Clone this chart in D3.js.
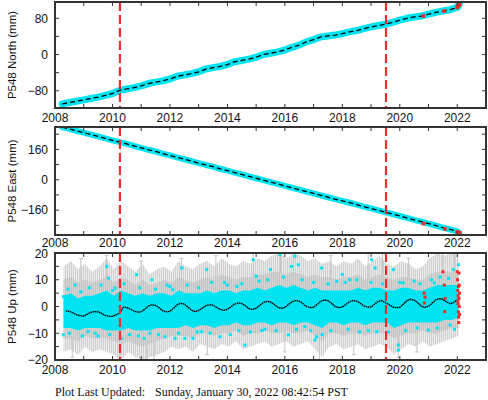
<html>
<head>
<script src="https://cdn.jsdelivr.net/npm/d3@7"></script>
<style>
  body { margin: 0; background: #fff; }
  svg text { font-family: "Liberation Sans", Arial, sans-serif; fill: #111; }
</style>
</head>
<body>
<div id="chart"></div>
<script>
// ---- data ----
// station P548, daily GPS positions (mm); band values every 0.25 yr
var yearTicks = [2008, 2009, 2010, 2011, 2012, 2013, 2014, 2015, 2016, 2017, 2018, 2019, 2020, 2021, 2022, 2023];
var yearLabels = [2008, 2010, 2012, 2014, 2016, 2018, 2020, 2022];
var offsets = [2010.26, 2019.52];   // red dashed lines (equipment changes)

var northStart = 2008.25, northStep = 0.25;
var northMm = [-109, -106, -103,
  -100, -97, -94, -90,  -86, -79, -76, -73,  -69, -64, -61, -58,  -54, -48, -45, -42,
  -38, -32, -29, -26,  -22, -16, -13, -10,  -6, 0, 3, 6,  10, 16, 21, 28,
  33, 39, 41, 43,  46, 50, 53, 57,  61, 64, 67, 71,  76, 80, 83, 85,
  89, 93, 96, 99,  104];
var northRed = [[2020.82, 85], [2021.55, 96], [2022.0, 104], [2022.03, 107], [2022.05, 109], [2022.07, 112], [2022.08, 110]];

var eastStart = 2008.25, eastStep = 0.25;
var eastMm = [277, 268, 258,
  248, 238, 229, 218,  208, 198, 189, 178,  168, 158, 149, 138,  128, 118, 108, 98,
  88, 78, 69, 58,  48, 38, 28, 18,  8, -2, -12, -22,  -32, -42, -52, -62,
  -72, -82, -92, -102,  -111, -121, -131, -141,  -151, -161, -171, -181,  -191, -201, -211, -221,
  -231, -241, -252, -262,  -272];
var eastRed = [[2020.82, -231], [2021.57, -259], [2022.0, -275], [2022.03, -278], [2022.05, -280], [2022.07, -282], [2022.08, -279]];

// vertical: envelopes of error bars (gray) and dense points (cyan)
var upStart = 2008.3, upStep = 0.25;
var grayHi = [15, 17, 14, 16, 13, 15, 18, 14, 17, 15, 13, 16, 12, 14, 15, 13, 17, 15, 14, 16, 17, 15, 18, 16, 15, 17, 16, 18,
  17, 19, 20, 18, 20, 19, 17, 18, 16, 17, 15, 17, 16, 18, 15, 17, 19, 16, 15, 17, 16, 14, 15, 18, 20, 19, 20, 20];
var grayLo = [-17, -16, -18, -15, -17, -16, -17, -18, -20, -17, -19, -20, -19, -18, -17, -15, -16, -15, -17, -14, -15, -16, -14, -15, -13, -16, -15, -14,
  -13, -15, -14, -13, -15, -14, -13, -16, -19, -15, -14, -16, -15, -14, -16, -15, -14, -15, -18, -16, -14, -15, -13, -15, -14, -13, -12, -11];
var grayInHi = [10, 11, 9, 10, 9, 10, 11, 9, 11, 10, 8, 10, 8, 9, 10, 9, 11, 10, 9, 10, 11, 10, 12, 11, 10, 11, 11, 12,
  12, 13, 13, 12, 13, 12, 11, 12, 11, 11, 10, 11, 11, 12, 10, 11, 12, 11, 10, 11, 11, 10, 10, 12, 13, 13, 13, 12];
var grayInLo = [-12, -12, -13, -11, -12, -12, -12, -13, -14, -13, -14, -15, -14, -13, -12, -11, -11, -11, -12, -10, -10, -11, -10, -10, -9, -11, -10, -10,
  -9, -10, -10, -9, -10, -10, -9, -11, -13, -10, -10, -11, -10, -10, -11, -10, -10, -10, -12, -11, -10, -10, -9, -10, -10, -9, -8, -8];
var cyanHi = [4, 5, 3, 4, 4, 5, 6, 4, 6, 5, 4, 5, 4, 5, 5, 4, 6, 5, 5, 5, 6, 5, 6, 6, 5, 6, 6, 7,
  6, 7, 8, 7, 8, 7, 6, 7, 6, 6, 6, 6, 6, 7, 6, 7, 7, 6, 6, 7, 7, 6, 6, 7, 8, 8, 8, 8];
var cyanLo = [-8, -8, -9, -8, -8, -8, -9, -9, -9, -8, -9, -9, -9, -8, -8, -8, -8, -7, -8, -7, -7, -8, -7, -7, -6, -7, -7, -6,
  -6, -7, -6, -6, -7, -6, -6, -7, -8, -6, -6, -7, -6, -6, -7, -6, -6, -6, -8, -7, -6, -6, -6, -6, -6, -5, -5, -4];
var grayBars = [[2010.26, -20, 2], [2011.2, -20, -6], [2017.2, -20, -8], [2019.95, -19, -8], [2016.3, 10, 20],
  [2015.85, 12, 20], [2021.5, 12, 20], [2014.9, 12, 20], [2013.6, 11, 19], [2009.8, 10, 19], [2012.4, 10, 18], [2018.9, 10, 20],
  [2008.6, -19, -9], [2011.45, -20, -8], [2013.3, -18, -8], [2016.0, -17, -7], [2018.4, -18, -8], [2020.6, -17, -8],
  [2008.9, 9, 18], [2011.0, 9, 17], [2017.6, 10, 19], [2019.4, 10, 20], [2021.9, 11, 20], [2020.3, 9, 18]];
var cyanDots = [[2008.29, -10.6], [2008.29, 3.7], [2009.8, 15], [2009.86, 10.6], [2010.09, 6.9], [2010.84, 11.9], [2011.37, 10],
  [2012.41, 14.4], [2012.8, -11.9], [2009.15, -9.4], [2010.15, -8.1], [2011.1, -11.9], [2011.3, -10], [2012.1, 6.3],
  [2013.28, 13.8], [2014.9, 17.5], [2014.33, 7.5], [2015.0, 11.3], [2012.52, -11.9], [2013.74, -11.3], [2014.61, -14.4],
  [2012.18, -11.9], [2011.83, -11.3], [2013.1, -9.4], [2015.83, 19.4], [2016.35, 18.8], [2016.23, 15], [2017.28, 14.4],
  [2017.8, 9.4], [2019.02, 17.5], [2016.12, -10.6], [2017.05, -12.5], [2017.1, -11.3], [2016.7, -7.5], [2015.5, 13.8],
  [2016.47, 15.6], [2018.25, 10], [2019.14, 14.4], [2019.78, 13.8], [2022.04, 15.6], [2019.95, -14.4], [2019.95, -16.3],
  [2019.2, -9.4], [2020.99, -8.8], [2021.75, -6.9], [2020.12, 8.8], [2021.2, 8.8], [2021.86, 13.8], [2008.7, 8], [2009.4, -10],
  [2010.6, -10.5], [2013.9, 9], [2015.2, -9], [2018.6, -9.5], [2020.5, 9.5], [2018.0, 12], [2014.1, -10.5], [2011.9, 8],
  [2008.45, 6.5], [2008.9, 5.5], [2009.2, 7], [2009.6, 8], [2010.0, 6], [2010.4, 8.5], [2010.95, 7], [2011.5, 6.5],
  [2012.0, 7.5], [2012.6, 8], [2013.0, 7], [2013.45, 9], [2014.0, 8], [2014.5, 8.5], [2015.1, 9.5], [2015.4, 10],
  [2015.95, 11], [2016.6, 10], [2017.0, 9], [2017.5, 8.5], [2018.1, 9], [2018.5, 10], [2019.0, 9], [2019.4, 8.5],
  [2020.0, 9], [2020.7, 8.5], [2021.1, 10], [2021.4, 11], [2021.7, 10.5],
  [2008.5, -10], [2008.95, -11], [2009.5, -11], [2009.9, -10.5], [2010.3, -12], [2010.9, -11], [2011.6, -10.5],
  [2012.3, -10], [2012.95, -9.5], [2013.4, -10], [2014.4, -9], [2014.8, -9.5], [2015.3, -8.5], [2015.7, -9],
  [2016.4, -8.5], [2016.9, -9], [2017.3, -10.5], [2017.6, -9], [2018.2, -8.5], [2018.9, -9], [2019.6, -9.5],
  [2020.2, -9], [2020.6, -8], [2021.3, -8], [2021.9, -8.5]];
var upModelStart = 2008.375, upModelStep = 0.125;
var upModel = [-1.7, -1.8, -2.4, -3.1, -3.4,
  -3.6, -2.9, -2.2, -1.9, -2.0, -2.6, -3.3, -3.7,
  -3.7, -3.1, -2.5, -0.3, -0.4, -1.0, -1.7, -2.1,
  -2.0, -1.0, 0.2, 0.6, 0.4, -0.5, -1.6, -2.0,
  -1.8, -0.7, 0.6, 1.2, 0.9, -0.2, -1.4, -1.9,
  -1.5, -0.6, 0.3, 0.6, 0.5, -0.3, -1.1, -1.4,
  -1.1, -0.1, 0.9, 1.3, 1.1, 0.3, -0.8, -1.1,
  -0.7, 0.4, 1.5, 1.9, 1.7, 0.8, -0.3, -0.7,
  -0.3, 0.7, 1.8, 2.2, 2.0, 1.1, 0.0, -0.4,
  -0.3, 0.8, 2.0, 2.4, 2.2, 1.2, 0.0, -0.4,
  -0.2, 0.8, 1.8, 2.2, 2.0, 1.2, 0.2, -0.2,
  -0.2, 0.9, 1.9, 2.2, 1.4, 0.7, -0.1, -0.5,
  -0.3, 0.9, 2.2, 2.7, 2.4, 1.4, 0.1, -0.3,
  0.1, 1.2, 2.5, 2.9, 2.7, 1.7, 1.0, 1.5,
  2.5];
var upRed = [[2020.85, 5], [2020.86, 1.3], [2020.88, 3.5], [2021.55, 8], [2021.56, -1.9], [2021.58, 3], [2021.5, 13],
  [2022.0, 13], [2022.01, 10], [2022.02, 6], [2022.03, 4], [2022.03, 1], [2022.04, -2], [2022.05, -4], [2022.05, -6],
  [2022.06, 3], [2022.07, 8], [2022.07, 0], [2022.08, 5], [2022.08, -3], [2022.02, 2], [2022.06, 12.5], [2022.04, 7.5]];

var footerLeft = "Plot Last Updated:";
var footerRight = "Sunday, January 30, 2022 08:42:54 PST";

// ---- drawing ----
var W = 488, H = 400;
var cyan = "#00e4f2", red = "#f42a2a", frame = "#333";
var svg = d3.select("#chart").append("svg").attr("width", W).attr("height", H);

// error bar texture: thin vertical strokes
var defs = svg.append("defs");
function hatch(id, bg, fg) {
  var pat = defs.append("pattern").attr("id", id).attr("patternUnits", "userSpaceOnUse")
    .attr("width", 2).attr("height", 4);
  pat.append("rect").attr("width", 2).attr("height", 4).attr("fill", bg);
  pat.append("rect").attr("x", 1).attr("width", 1).attr("height", 4).attr("fill", fg);
}
hatch("grayOut", "#ebebeb", "#d0d0d0");
hatch("grayIn", "#d6d6d6", "#c2c2c2");

var x = d3.scaleLinear().domain([2008, 2023]).range([55, 486]);

function series(start, step, vals) {
  return vals.map(function (v, i) { return [start + i * step, v]; });
}

var panels = [
  { title: "P548 North (mm)", top: 2, bottom: 108, domain: [-118, 116], labels: [-80, 0, 80], minor: 40, id: "n", lab: 14 },
  { title: "P548 East (mm)", top: 127, bottom: 235, domain: [-291, 278], labels: [-160, 0, 160], minor: 80, id: "e", lab: 12 },
  { title: "P548 Up (mm)", top: 253, bottom: 360, domain: [-20, 20], labels: [-20, -10, 0, 10, 20], minor: 5, id: "u", lab: 14 }
];

panels.forEach(function (p) {
  var y = d3.scaleLinear().domain(p.domain).range([p.bottom, p.top]);
  var g = svg.append("g");
  svg.append("clipPath").attr("id", "clip-" + p.id)
    .append("rect").attr("x", 55).attr("y", p.top).attr("width", 431).attr("height", p.bottom - p.top);
  var plot = g.append("g").attr("clip-path", "url(#clip-" + p.id + ")");

  if (p.id === "n" || p.id === "e") {
    var pts = p.id === "n" ? series(northStart, northStep, northMm) : series(eastStart, eastStep, eastMm);
    var red_ = p.id === "n" ? northRed : eastRed;
    var line = d3.line().x(function (d) { return x(d[0]); }).y(function (d) { return y(d[1]); });
    plot.append("path").attr("d", line(pts.concat([red_[red_.length - 2]])))
      .attr("fill", "none").attr("stroke", cyan).attr("stroke-width", p.id === "n" ? 7 : 6)
      .attr("stroke-linecap", "round").attr("stroke-linejoin", "round");
    plot.append("path").attr("d", line(pts))
      .attr("fill", "none").attr("stroke", "#000").attr("stroke-width", 1.3)
      .attr("stroke-dasharray", "5,3");
    plot.selectAll("rect.red").data(red_).enter().append("rect")
      .attr("x", function (d) { return x(d[0]) - 1.8; })
      .attr("y", function (d) { return y(d[1]) - 1.8; })
      .attr("width", 3.6).attr("height", 3.6).attr("fill", red);
  } else {
    var band = function (hi, lo) {
      return d3.area()
        .x(function (d, i) { return x(Math.min(upStart + i * upStep, 2022.08)); })
        .y0(function (d, i) { return y(lo[i]); })
        .y1(function (d, i) { return y(hi[i]); })(hi);
    };
    plot.append("path").attr("d", band(grayHi, grayLo)).attr("fill", "url(#grayOut)");
    plot.selectAll("g.bar").data(grayBars).enter().append("path")
      .attr("d", function (d) {
        var xx = x(d[0]);
        return "M" + xx + "," + y(d[1]) + "V" + y(d[2]) +
          "M" + (xx - 2) + "," + y(d[1]) + "h4M" + (xx - 2) + "," + y(d[2]) + "h4";
      })
      .attr("stroke", "#c2c2c2").attr("stroke-width", 1).attr("fill", "none");
    plot.append("path").attr("d", band(grayInHi, grayInLo)).attr("fill", "url(#grayIn)");
    plot.append("path").attr("d", band(cyanHi, cyanLo)).attr("fill", cyan);
    plot.selectAll("rect.cy").data(cyanDots).enter().append("rect")
      .attr("x", function (d) { return x(d[0]) - 1.5; })
      .attr("y", function (d) { return y(d[1]) - 1.5; })
      .attr("width", 3).attr("height", 3).attr("fill", cyan);
    var mline = d3.line()
      .x(function (d, i) { return x(upModelStart + i * upModelStep); })
      .y(function (d) { return y(d); });
    plot.append("path").attr("d", mline(upModel))
      .attr("fill", "none").attr("stroke", "#000").attr("stroke-width", 1.4)
      .attr("stroke-dasharray", "1.6,0.6");
    plot.selectAll("rect.red").data(upRed).enter().append("rect")
      .attr("x", function (d) { return x(d[0]) - 1.5; })
      .attr("y", function (d) { return y(d[1]) - 1.5; })
      .attr("width", 3).attr("height", 3).attr("fill", red);
  }

  // equipment-change lines
  plot.selectAll("line.off").data(offsets).enter().append("line")
    .attr("x1", function (d) { return x(d); }).attr("x2", function (d) { return x(d); })
    .attr("y1", p.top).attr("y2", p.bottom)
    .attr("stroke", red).attr("stroke-width", 2.2).attr("stroke-dasharray", "9,4");

  // ticks
  var ticks = g.append("g").attr("stroke", frame).attr("stroke-width", 1);
  yearTicks.forEach(function (t) {
    ticks.append("line").attr("x1", x(t)).attr("x2", x(t)).attr("y1", p.bottom).attr("y2", p.bottom - 4);
    ticks.append("line").attr("x1", x(t)).attr("x2", x(t)).attr("y1", p.top).attr("y2", p.top + 4);
  });
  var yt = d3.range(Math.ceil(p.domain[0] / p.minor) * p.minor, p.domain[1] + 0.001, p.minor);
  yt.forEach(function (v) {
    ticks.append("line").attr("x1", 55).attr("x2", 59).attr("y1", y(v)).attr("y2", y(v));
    ticks.append("line").attr("x1", 486).attr("x2", 482).attr("y1", y(v)).attr("y2", y(v));
  });

  g.append("rect").attr("x", 55).attr("y", p.top).attr("width", 431).attr("height", p.bottom - p.top)
    .attr("fill", "none").attr("stroke", frame).attr("stroke-width", 2);

  g.selectAll("text.yl").data(p.labels).enter().append("text")
    .attr("x", 48).attr("y", function (d) { return y(d); })
    .attr("dy", function (d) { return d === p.domain[1] ? "0.45em" : "0.36em"; })
    .attr("text-anchor", "end").style("font-size", "12px")
    .text(function (d) { return d < 0 ? "\u2212" + (-d) : d; });
  g.selectAll("text.xl").data(yearLabels).enter().append("text")
    .attr("x", function (d) { return x(d); }).attr("y", p.bottom + p.lab)
    .attr("text-anchor", "middle").style("font-size", "12px")
    .text(function (d) { return d; });
  g.append("text")
    .attr("transform", "translate(16," + ((p.top + p.bottom) / 2) + ") rotate(-90)")
    .attr("text-anchor", "middle").style("font-size", "11.5px")
    .text(p.title);
});

svg.append("text").attr("x", 55).attr("y", 396)
  .style("font-family", "'Liberation Serif', 'Times New Roman', serif").style("font-size", "12px")
  .text(footerLeft);
svg.append("text").attr("x", 155).attr("y", 396)
  .style("font-family", "'Liberation Serif', 'Times New Roman', serif").style("font-size", "12px")
  .text(footerRight);
</script>
</body>
</html>
